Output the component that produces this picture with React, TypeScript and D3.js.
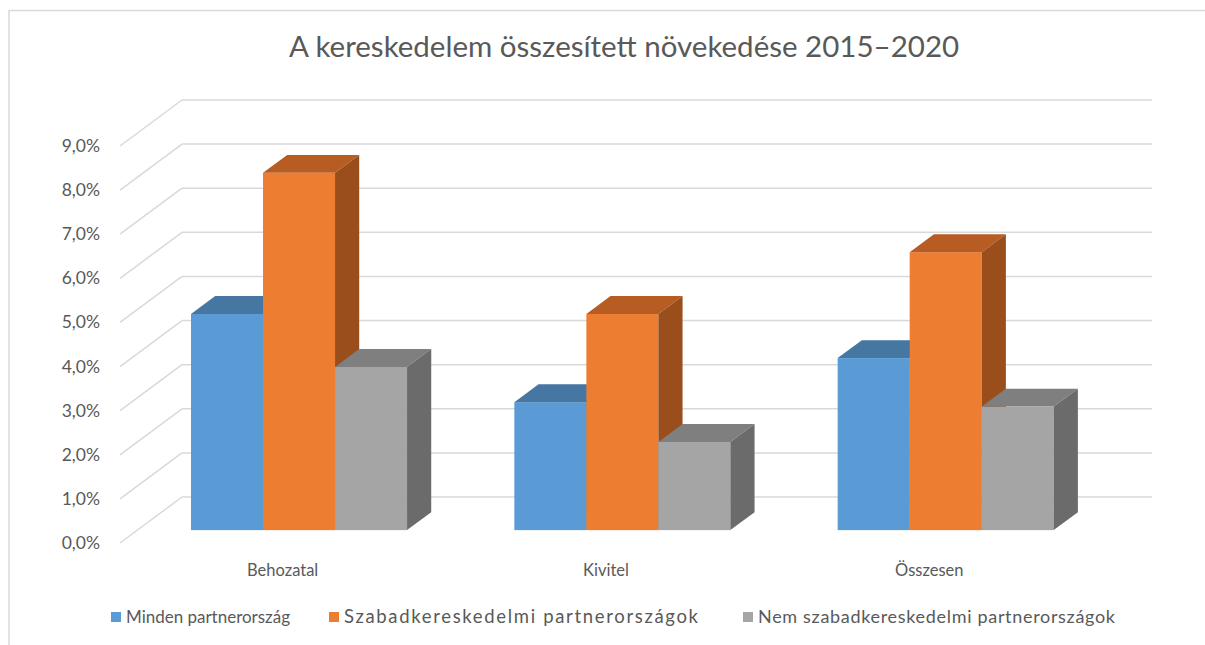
import * as d3 from 'd3'

const title = 'A kereskedelem összesített növekedése 2015–2020'
const categories = ['Behozatal', 'Kivitel', 'Összesen']
const seriesNames = ['Minden partnerország', 'Szabadkereskedelmi partnerországok', 'Nem szabadkereskedelmi partnerországok']
const minden = [4.9, 2.9, 3.9]
const szabad = [8.1, 4.9, 6.3]
const nemSzabad = [3.7, 2.0, 2.8]
const yTicks = [0, 1, 2, 3, 4, 5, 6, 7, 8, 9]

const values = [minden, szabad, nemSzabad]
const faces = [
  { front: '#5B9BD5', top: '#4676A2', side: '#3E6990' },
  { front: '#ED7D31', top: '#B75C22', side: '#9A4E1B' },
  { front: '#A5A5A5', top: '#7F7F7F', side: '#6B6B6B' },
]

const FONT = 'Lato, "Open Sans", sans-serif'
const TEXT = '#595959'
const GRID = '#d9d9d9'

// back wall geometry, floor depth runs toward lower-left
const wallLeft = 182
const wallRight = 1152
const depthX = -62
const depthY = 46
const barFront = 0.72
const barBack = 0.33

const App = () => {
  const y = d3.scaleLinear().domain([0, 9]).range([497, 100])
  const x0 = d3.scaleBand<string>().domain(categories).range([wallLeft, wallRight])
  const x1 = d3
    .scaleBand<string>()
    .domain(seriesNames)
    .range([0, x0.bandwidth()])
    .paddingOuter(0.745)
  const fx = depthX * barFront
  const fy = depthY * barFront
  const bdx = depthX * (barBack - barFront)
  const bdy = depthY * (barBack - barFront)
  const bw = x1.bandwidth()

  // legend swatch x and text widths as seen in the original
  const legendX = [111, 329, 743]
  const legendLen = [164, 354, 357]
  const legendSize = [17, 18.5, 18]

  return (
    <svg
      width={1205}
      height={645}
      style={{ position: 'absolute', left: 0, top: 0, display: 'block', background: '#fff' }}
    >
      <line x1={8.5} y1={10.5} x2={1205} y2={10.5} stroke={GRID} strokeWidth={1.5} />
      <line x1={9} y1={10.5} x2={9} y2={645} stroke={GRID} strokeWidth={1.5} />
      <text x={624} y={57} textAnchor="middle" fontFamily={FONT} fontSize={29.5} fill={TEXT}>
        {title}
      </text>
      {yTicks.map(t => (
        <g key={t}>
          <line x1={wallLeft} y1={y(t)} x2={wallRight} y2={y(t)} stroke={GRID} strokeWidth={1.5} />
          <line
            x1={wallLeft}
            y1={y(t)}
            x2={wallLeft + depthX}
            y2={y(t) + depthY}
            stroke={GRID}
            strokeWidth={1.5}
          />
          <text
            x={100}
            y={y(t) + depthY + 6}
            textAnchor="end"
            fontFamily={FONT}
            fontSize={17.5}
            fill={TEXT}
          >
            {d3.format('.1f')(t).replace('.', ',') + '%'}
          </text>
        </g>
      ))}
      {categories.map((c, ci) => (
        <g key={c}>
          {seriesNames.map((s, si) => {
            const v = values[si][ci]
            const xl = (x0(c) || 0) + (x1(s) || 0) + fx
            const xr = xl + bw
            const yb = y(0) + fy
            const yt = y(v) + fy
            const f = faces[si]
            return (
              <g key={s}>
                <rect x={xl} y={yt} width={bw} height={yb - yt} fill={f.front} />
                <polygon
                  points={`${xl},${yt} ${xr},${yt} ${xr + bdx},${yt + bdy} ${xl + bdx},${yt + bdy}`}
                  fill={f.top}
                />
                <polygon
                  points={`${xr},${yt} ${xr + bdx},${yt + bdy} ${xr + bdx},${yb + bdy} ${xr},${yb}`}
                  fill={f.side}
                />
              </g>
            )
          })}
          <text
            x={(x0(c) || 0) + x0.bandwidth() / 2 + depthX + 1}
            y={576}
            textAnchor="middle"
            fontFamily={FONT}
            fontSize={16.5}
            fill={TEXT}
          >
            {c}
          </text>
        </g>
      ))}
      {seriesNames.map((s, si) => (
        <g key={s}>
          <rect x={legendX[si]} y={612} width={10} height={10} fill={faces[si].front} />
          <text
            x={legendX[si] + 15}
            y={623}
            fontFamily={FONT}
            fontSize={legendSize[si]}
            fill={TEXT}
            textLength={legendLen[si]}
            lengthAdjust="spacing"
          >
            {s}
          </text>
        </g>
      ))}
    </svg>
  )
}

export default App
